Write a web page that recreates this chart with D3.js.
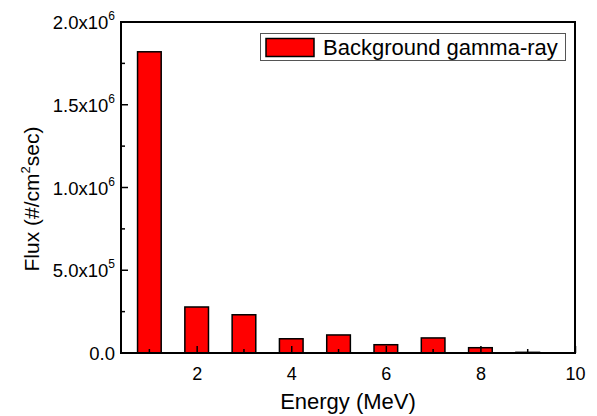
<!DOCTYPE html>
<html>
<head>
<meta charset="utf-8">
<script src="https://cdn.jsdelivr.net/npm/d3@7"></script>
<style>
  body { margin: 0; background: #fff; }
  svg { display: block; font-family: "Liberation Sans", Arial, sans-serif; }
</style>
</head>
<body>
<svg width="597" height="416"></svg>
<script>
// data
const energies = [1, 2, 3, 4, 5, 6, 7, 8, 9];
const flux = [1820000, 278000, 231000, 86000, 109000, 50000, 91000, 32000, 4000];
const xMajor = [2, 4, 6, 8, 10];
const xMinor = [1, 3, 5, 7, 9];
const yMajor = [0, 500000, 1000000, 1500000, 2000000];
const yMinor = [250000, 750000, 1250000, 1750000];
const seriesName = "Background gamma-ray";

const margin = {top: 22, right: 22, bottom: 63, left: 121};
const width = 597, height = 416;

const svg = d3.select("svg");

const x = d3.scaleLinear().domain([0.4, 10]).range([margin.left, width - margin.right]);
const y = d3.scaleLinear().domain([0, 2000000]).range([height - margin.bottom, margin.top]);

const barW = x(1.25) - x(0.75);

// bars
svg.append("g")
    .selectAll("rect")
    .data(energies)
    .enter()
    .append("rect")
    .attr("x", (d) => x(d) - barW / 2)
    .attr("y", (d, i) => y(flux[i]))
    .attr("width", barW)
    .attr("height", (d, i) => y(0) - y(flux[i]))
    .attr("fill", "#ff0000")
    .attr("stroke", "#000")
    .attr("stroke-width", 1.5);

// frame
svg.append("rect")
    .attr("x", x(0.4))
    .attr("y", y(2000000))
    .attr("width", x(10) - x(0.4))
    .attr("height", y(0) - y(2000000))
    .attr("fill", "none")
    .attr("stroke", "#000")
    .attr("stroke-width", 2);

// bottom axis, ticks point inward
const xAxis = d3.axisBottom(x).tickValues(xMajor).tickSize(-7).tickPadding(14).tickFormat(d3.format("d"));
const gx = svg.append("g")
    .attr("transform", "translate(0," + y(0) + ")")
    .call(xAxis);
gx.select(".domain").remove();
gx.selectAll(".tick line").attr("stroke-width", 1.5);
gx.selectAll(".tick text").attr("font-size", 18).attr("fill", "#000")
    .attr("font-family", "Liberation Sans, Arial, sans-serif");
gx.selectAll(".minor")
    .data(xMinor)
    .enter()
    .append("line")
    .attr("x1", (d) => x(d)).attr("x2", (d) => x(d))
    .attr("y1", 0).attr("y2", -4)
    .attr("stroke", "#000")
    .attr("stroke-width", 1.5);

// left axis
const gy = svg.append("g")
    .attr("transform", "translate(" + x(0.4) + ",0)");
gy.selectAll(".major")
    .data(yMajor)
    .enter()
    .append("line")
    .attr("x1", 0).attr("x2", 7)
    .attr("y1", (d) => y(d)).attr("y2", (d) => y(d))
    .attr("stroke", "#000")
    .attr("stroke-width", 1.5);
gy.selectAll(".minor")
    .data(yMinor)
    .enter()
    .append("line")
    .attr("x1", 0).attr("x2", 4)
    .attr("y1", (d) => y(d)).attr("y2", (d) => y(d))
    .attr("stroke", "#000")
    .attr("stroke-width", 1.5);

const yLabels = gy.selectAll(".lbl")
    .data(yMajor)
    .enter()
    .append("text")
    .attr("x", -6)
    .attr("y", (d) => y(d) + 7)
    .attr("text-anchor", "end")
    .attr("font-size", 18.5)
    .attr("fill", "#000");
yLabels.each(function(d) {
    const t = d3.select(this);
    if (d === 0) { t.text("0.0"); return; }
    const e = Math.floor(Math.log10(d));
    const m = d / Math.pow(10, e);
    t.append("tspan").text(m.toFixed(1) + "x10");
    t.append("tspan").attr("dy", -9).attr("font-size", 12).text(e);
});

// axis titles
svg.append("text")
    .attr("x", (x(0.4) + x(10)) / 2)
    .attr("y", 409)
    .attr("text-anchor", "middle")
    .attr("font-size", 22)
    .attr("fill", "#000")
    .text("Energy (MeV)");

const yt = svg.append("text")
    .attr("transform", "translate(39,199) rotate(-90)")
    .attr("text-anchor", "middle")
    .attr("font-size", 21)
    .attr("fill", "#000");
yt.append("tspan").text("Flux (#/cm");
yt.append("tspan").attr("dy", -9).attr("font-size", 13).text("2");
yt.append("tspan").attr("dy", 9).text("sec)");

// legend
const lg = svg.append("g");
lg.append("rect")
    .attr("x", 260.5).attr("y", 33.5)
    .attr("width", 305).attr("height", 27)
    .attr("fill", "#fff")
    .attr("stroke", "#555")
    .attr("stroke-width", 1);
lg.append("rect")
    .attr("x", 266).attr("y", 38.5)
    .attr("width", 48).attr("height", 18)
    .attr("fill", "#ff0000")
    .attr("stroke", "#000")
    .attr("stroke-width", 1.5);
lg.append("text")
    .attr("x", 323)
    .attr("y", 55)
    .attr("font-size", 22)
    .attr("fill", "#000")
    .text(seriesName);
</script>
</body>
</html>
